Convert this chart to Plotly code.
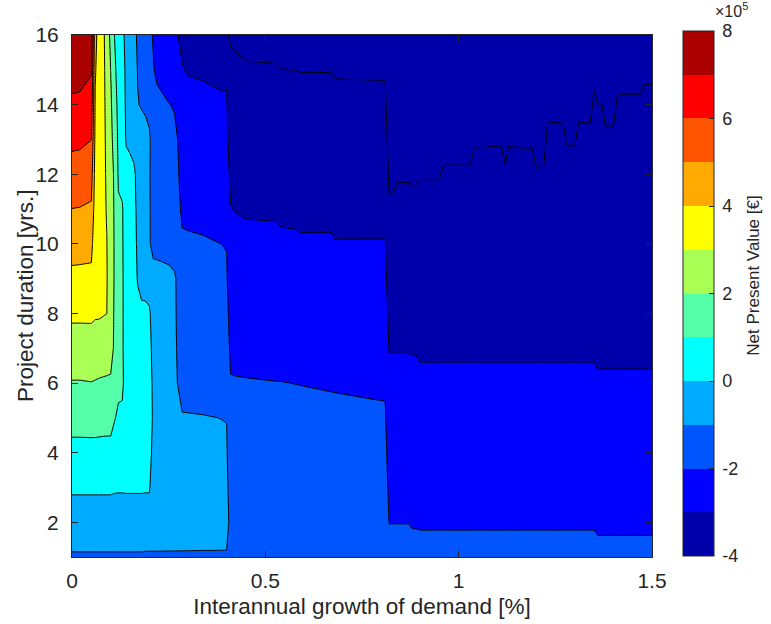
import numpy as np
import plotly.graph_objects as go

# Interannual growth of demand [%] (grid columns)
growth_pct = [0.00, 0.02, 0.05, 0.06, 0.07, 0.08, 0.09, 0.10, 0.11, 0.12, 0.13, 0.14,
              0.15, 0.16, 0.17, 0.18, 0.19, 0.20, 0.21, 0.22, 0.25, 0.265, 0.285, 0.30,
              0.34, 0.39, 0.40, 0.41, 0.42, 0.45, 0.53, 0.54, 0.58, 0.59, 0.67, 0.68,
              0.81, 0.82, 0.83, 0.84, 0.87, 0.88, 0.89, 0.90, 0.95, 0.96, 1.03, 1.04,
              1.11, 1.12, 1.13, 1.16, 1.19, 1.20, 1.22, 1.23, 1.27, 1.28, 1.30, 1.31,
              1.34, 1.35, 1.36, 1.37, 1.38, 1.40, 1.41, 1.42, 1.47, 1.48, 1.50]

# Project duration [yrs.] (grid rows)
duration_yrs = list(range(1, 17))

# Net present value [x 1e5 EUR]; one list per growth value, durations 1..16
npv_by_growth = [
    [-1.09, -0.48, 0.13, 0.73, 1.34, 1.95, 2.56, 3.17, 3.77, 4.38, 4.99, 5.60, 6.21, 6.81, 7.42, 7.99],
    [-1.09, -0.48, 0.13, 0.73, 1.34, 1.95, 2.56, 3.17, 3.76, 4.36, 4.97, 5.58, 6.18, 6.78, 7.38, 7.95],
    [-1.09, -0.48, 0.13, 0.73, 1.36, 1.98, 2.58, 3.17, 3.74, 4.31, 4.87, 5.44, 6.01, 6.56, 7.09, 7.65],
    [-1.09, -0.48, 0.13, 0.74, 1.34, 1.95, 2.54, 3.10, 3.18, 3.33, 3.48, 3.63, 3.78, 3.93, 4.07, 4.22],
    [-1.09, -0.48, 0.13, 0.73, 1.33, 1.92, 2.50, 3.10, 3.20, 3.30, 3.38, 3.45, 3.52, 3.58, 3.64, 3.68],
    [-1.09, -0.48, 0.13, 0.72, 1.32, 1.90, 2.47, 3.05, 3.12, 3.18, 3.20, 3.22, 3.23, 3.24, 3.24, 3.23],
    [-1.09, -0.48, 0.13, 0.72, 1.31, 1.88, 2.45, 3.005, 3.05, 3.02, 2.95, 2.90, 2.85, 2.78, 2.71, 2.58],
    [-1.09, -0.48, 0.13, 0.72, 1.31, 1.88, 2.35, 2.40, 2.50, 2.50, 2.45, 2.40, 2.30, 2.17, 1.99, 1.77],
    [-1.09, -0.48, 0.10, 0.58, 1.05, 1.50, 1.85, 1.90, 1.92, 1.92, 1.90, 1.85, 1.60, 1.40, 1.17, 0.99],
    [-1.09, -0.48, 0.09, 0.47, 0.85, 1.20, 1.35, 1.40, 1.40, 1.35, 1.10, 0.90, 0.83, 0.75, 0.67, 0.58],
    [-1.09, -0.48, 0.09, 0.45, 0.80, 1.20, 1.12, 1.12, 1.12, 1.10, 1.08, 0.70, 0.40, 0.33, 0.25, 0.17],
    [-1.09, -0.48, 0.10, 0.35, 0.45, 0.50, 0.55, 0.55, 0.55, 0.50, 0.45, 0.20, -0.05, -0.10, -0.12, -0.19],
    [-1.09, -0.48, 0.10, 0.33, 0.42, 0.45, 0.48, 0.48, 0.45, 0.40, 0.30, 0.25, -0.17, -0.35, -0.43, -0.50],
    [-1.09, -0.48, 0.10, 0.30, 0.38, 0.42, 0.44, 0.44, 0.30, 0.20, 0.15, 0.12, -0.25, -0.69, -0.74, -0.81],
    [-1.09, -0.48, 0.10, 0.28, 0.35, 0.38, 0.38, 0.20, -0.05, -0.10, -0.13, -0.20, -0.49, -0.97, -1.03, -1.10],
    [-1.09, -0.48, 0.10, 0.26, 0.32, 0.34, 0.30, 0.06, -0.10, -0.35, -0.39, -0.45, -0.66, -1.06, -1.26, -1.35],
    [-1.10, -0.49, 0.09, 0.25, 0.30, 0.30, 0.28, 0.11, -0.20, -0.61, -0.65, -0.70, -0.75, -1.12, -1.49, -1.60],
    [-1.10, -0.50, 0.09, 0.15, 0.20, 0.20, 0.15, 0.08, -0.30, -0.90, -0.92, -0.94, -0.90, -1.20, -1.72, -1.85],
    [-1.10, -0.50, -0.50, -0.12, -0.06, -0.09, -0.15, -0.25, -0.60, -1.30, -1.30, -1.30, -1.30, -1.48, -1.95, -2.05],
    [-1.10, -0.50, -0.50, -0.30, -0.25, -0.28, -0.35, -0.45, -0.65, -1.30, -1.32, -1.35, -1.40, -1.80, -2.15, -2.19],
    [-1.10, -0.52, -0.50, -0.45, -0.45, -0.50, -0.55, -0.65, -0.80, -1.30, -1.40, -1.50, -1.65, -1.97, -2.48, -2.60],
    [-1.10, -0.53, -0.55, -0.60, -0.75, -0.85, -0.87, -0.88, -0.88, -1.45, -1.60, -1.75, -1.82, -2.06, -2.66, -2.82],
    [-1.10, -0.54, -0.60, -0.75, -0.95, -1.25, -1.35, -1.45, -1.55, -1.90, -2.12, -2.20, -2.25, -2.35, -2.95, -3.20],
    [-1.10, -0.55, -0.65, -0.80, -0.95, -1.30, -1.42, -1.52, -1.62, -1.88, -2.20, -2.30, -2.40, -2.60, -3.08, -3.30],
    [-1.10, -0.57, -0.70, -0.85, -0.97, -1.32, -1.45, -1.55, -1.68, -1.92, -2.25, -2.40, -2.55, -2.75, -3.12, -3.45],
    [-1.10, -0.58, -0.72, -0.87, -1.01, -1.35, -1.50, -1.65, -1.80, -2.01, -2.30, -2.50, -2.70, -2.88, -3.20, -3.80],
    [-1.10, -0.60, -0.75, -0.90, -1.02, -1.40, -1.60, -1.75, -1.90, -2.03, -2.35, -2.60, -2.80, -2.93, -3.10, -3.93],
    [-1.20, -1.35, -1.50, -1.65, -1.80, -1.95, -2.145, -2.35, -2.56, -2.77, -2.97, -3.19, -3.41, -3.63, -3.85, -4.08],
    [-1.20, -1.35, -1.50, -1.65, -1.81, -1.96, -2.155, -2.37, -2.585, -2.80, -3.015, -3.23, -3.45, -3.67, -3.88, -4.10],
    [-1.20, -1.35, -1.51, -1.66, -1.81, -1.97, -2.17, -2.40, -2.62, -2.84, -3.064, -3.28, -3.50, -3.72, -3.945, -4.165],
    [-1.20, -1.36, -1.52, -1.67, -1.83, -1.99, -2.20, -2.42, -2.64, -2.86, -3.08, -3.30, -3.52, -3.74, -3.96, -4.18],
    [-1.20, -1.36, -1.52, -1.68, -1.83, -1.99, -2.21, -2.44, -2.67, -2.89, -3.116, -3.34, -3.56, -3.78, -3.993, -4.21],
    [-1.20, -1.36, -1.52, -1.68, -1.84, -2.007, -2.23, -2.46, -2.68, -2.91, -3.13, -3.35, -3.57, -3.79, -4.004, -4.22],
    [-1.20, -1.36, -1.52, -1.68, -1.85, -2.011, -2.24, -2.47, -2.70, -2.93, -3.15, -3.36, -3.58, -3.80, -4.015, -4.23],
    [-1.20, -1.37, -1.53, -1.70, -1.87, -2.044, -2.27, -2.49, -2.71, -2.93, -3.15, -3.36, -3.58, -3.80, -4.017, -4.23],
    [-1.20, -1.37, -1.53, -1.70, -1.87, -2.05, -2.28, -2.51, -2.74, -2.97, -3.185, -3.40, -3.62, -3.84, -4.057, -4.275],
    [-1.20, -1.38, -1.55, -1.73, -1.91, -2.10, -2.32, -2.54, -2.76, -2.97, -3.19, -3.41, -3.63, -3.85, -4.066, -4.285],
    [-1.80, -2.01, -2.22, -2.42, -2.63, -2.83, -3.03, -3.25, -3.46, -3.68, -3.90, -4.12, -4.33, -4.55, -4.77, -4.98],
    [-1.80, -2.01, -2.22, -2.42, -2.63, -2.83, -3.03, -3.25, -3.46, -3.68, -3.90, -4.12, -4.33, -4.55, -4.77, -4.98],
    [-1.80, -2.01, -2.22, -2.42, -2.63, -2.83, -3.03, -3.23, -3.44, -3.64, -3.84, -4.05, -4.25, -4.45, -4.65, -4.86],
    [-1.80, -2.01, -2.22, -2.42, -2.63, -2.83, -3.03, -3.23, -3.44, -3.64, -3.84, -4.05, -4.25, -4.45, -4.65, -4.86],
    [-1.83, -2.04, -2.24, -2.44, -2.64, -2.84, -3.04, -3.25, -3.45, -3.66, -3.86, -4.07, -4.27, -4.48, -4.68, -4.89],
    [-1.83, -2.04, -2.24, -2.44, -2.64, -2.84, -3.04, -3.25, -3.45, -3.66, -3.86, -4.07, -4.27, -4.48, -4.68, -4.89],
    [-1.83, -2.05, -2.25, -2.46, -2.67, -2.88, -3.08, -3.27, -3.46, -3.65, -3.84, -4.03, -4.22, -4.41, -4.60, -4.79],
    [-1.83, -2.05, -2.25, -2.46, -2.67, -2.88, -3.08, -3.27, -3.46, -3.65, -3.84, -4.03, -4.22, -4.41, -4.60, -4.79],
    [-1.83, -2.05, -2.25, -2.46, -2.67, -2.88, -3.08, -3.26, -3.43, -3.61, -3.78, -3.955, -4.13, -4.30, -4.48, -4.65],
    [-1.83, -2.05, -2.25, -2.46, -2.67, -2.88, -3.08, -3.26, -3.43, -3.61, -3.78, -3.955, -4.13, -4.30, -4.48, -4.65],
    [-1.83, -2.05, -2.25, -2.46, -2.67, -2.88, -3.08, -3.24, -3.40, -3.56, -3.72, -3.88, -4.04, -4.20, -4.36, -4.52],
    [-1.83, -2.05, -2.25, -2.46, -2.67, -2.88, -3.08, -3.24, -3.40, -3.55, -3.71, -3.87, -4.03, -4.19, -4.34, -4.50],
    [-1.83, -2.05, -2.25, -2.46, -2.67, -2.88, -3.08, -3.25, -3.43, -3.60, -3.77, -3.95, -4.12, -4.30, -4.47, -4.64],
    [-1.83, -2.05, -2.25, -2.46, -2.67, -2.88, -3.08, -3.24, -3.40, -3.56, -3.72, -3.87, -4.03, -4.19, -4.35, -4.51],
    [-1.83, -2.05, -2.25, -2.46, -2.67, -2.88, -3.08, -3.24, -3.40, -3.56, -3.72, -3.88, -4.04, -4.20, -4.36, -4.52],
    [-1.83, -2.05, -2.25, -2.46, -2.67, -2.88, -3.08, -3.24, -3.40, -3.56, -3.72, -3.88, -4.04, -4.20, -4.36, -4.52],
    [-1.83, -2.05, -2.25, -2.46, -2.67, -2.88, -3.08, -3.26, -3.43, -3.61, -3.78, -3.96, -4.14, -4.31, -4.49, -4.66],
    [-1.83, -2.05, -2.25, -2.46, -2.67, -2.88, -3.08, -3.26, -3.43, -3.61, -3.78, -3.955, -4.13, -4.30, -4.48, -4.65],
    [-1.83, -2.05, -2.25, -2.46, -2.67, -2.88, -3.08, -3.22, -3.36, -3.50, -3.65, -3.79, -3.93, -4.07, -4.21, -4.35],
    [-1.83, -2.05, -2.25, -2.46, -2.67, -2.88, -3.08, -3.22, -3.36, -3.51, -3.65, -3.79, -3.93, -4.08, -4.22, -4.36],
    [-1.83, -2.05, -2.25, -2.46, -2.67, -2.88, -3.08, -3.24, -3.40, -3.555, -3.71, -3.87, -4.03, -4.19, -4.35, -4.50],
    [-1.83, -2.05, -2.25, -2.46, -2.67, -2.88, -3.08, -3.24, -3.40, -3.555, -3.71, -3.87, -4.03, -4.19, -4.35, -4.50],
    [-1.83, -2.05, -2.25, -2.46, -2.67, -2.88, -3.08, -3.22, -3.36, -3.51, -3.65, -3.79, -3.93, -4.07, -4.22, -4.36],
    [-1.83, -2.05, -2.25, -2.46, -2.67, -2.88, -3.08, -3.22, -3.36, -3.51, -3.65, -3.79, -3.93, -4.08, -4.22, -4.36],
    [-1.83, -2.05, -2.25, -2.46, -2.67, -2.88, -3.08, -3.205, -3.33, -3.45, -3.58, -3.70, -3.83, -3.95, -4.08, -4.20],
    [-1.87, -2.08, -2.29, -2.50, -2.71, -2.92, -3.12, -3.25, -3.37, -3.50, -3.62, -3.75, -3.87, -3.998, -4.125, -4.25],
    [-1.87, -2.08, -2.29, -2.50, -2.71, -2.92, -3.12, -3.25, -3.37, -3.50, -3.62, -3.75, -3.87, -3.998, -4.125, -4.25],
    [-1.87, -2.08, -2.29, -2.50, -2.71, -2.92, -3.12, -3.26, -3.40, -3.535, -3.67, -3.81, -3.95, -4.09, -4.23, -4.365],
    [-1.87, -2.08, -2.29, -2.50, -2.71, -2.92, -3.12, -3.26, -3.40, -3.535, -3.67, -3.81, -3.95, -4.09, -4.23, -4.365],
    [-1.87, -2.08, -2.29, -2.50, -2.71, -2.92, -3.12, -3.24, -3.36, -3.48, -3.61, -3.73, -3.85, -3.97, -4.09, -4.21],
    [-1.87, -2.08, -2.29, -2.50, -2.71, -2.92, -3.12, -3.24, -3.36, -3.48, -3.60, -3.72, -3.84, -3.964, -4.084, -4.205],
    [-1.87, -2.08, -2.29, -2.50, -2.71, -2.92, -3.12, -3.24, -3.36, -3.48, -3.60, -3.72, -3.84, -3.964, -4.084, -4.205],
    [-1.87, -2.08, -2.29, -2.50, -2.71, -2.92, -3.12, -3.24, -3.35, -3.47, -3.58, -3.70, -3.82, -3.93, -4.05, -4.165],
    [-1.87, -2.08, -2.29, -2.50, -2.71, -2.92, -3.12, -3.24, -3.35, -3.47, -3.58, -3.70, -3.82, -3.93, -4.05, -4.165],
]

npv_unit = 1e5
level_min, level_max, level_step = -4e5, 8e5, 1e5
colorbar_ticks = [-4e5, -2e5, 0, 2e5, 4e5, 6e5, 8e5]
colorbar_ticktext = ["-4", "-2", "0", "2", "4", "6", "8"]
x_ticks = [0, 0.5, 1, 1.5]
x_ticktext = ["0", "0.5", "1", "1.5"]
y_ticks = [2, 4, 6, 8, 10, 12, 14, 16]

# MATLAB jet(12)
jet12 = ["rgb(0,0,170)", "rgb(0,0,255)", "rgb(0,85,255)", "rgb(0,170,255)",
         "rgb(0,255,255)", "rgb(85,255,170)", "rgb(170,255,85)", "rgb(255,255,0)",
         "rgb(255,170,0)", "rgb(255,85,0)", "rgb(255,0,0)", "rgb(170,0,0)"]

z = np.array(npv_by_growth, dtype=float).T * npv_unit

colorscale = []
for k, c in enumerate(jet12):
    colorscale.append([k / 12, c])
    colorscale.append([(k + 1) / 12, c])

axis_color = "#262626"
font_family = "Liberation Sans, Arial, sans-serif"
thin = "\u2009"

fig = go.Figure()
# filled bands (values below -3e5 take the lowest colour, as in MATLAB)
fig.add_trace(go.Contour(
    x=growth_pct, y=duration_yrs, z=z,
    autocontour=False,
    contours=dict(start=level_min + level_step, end=level_max, size=level_step,
                  coloring="fill", showlines=False),
    line=dict(width=0, smoothing=0),
    colorscale=colorscale,
    showscale=False,
    hoverinfo="skip",
))
# black contour lines at every level
fig.add_trace(go.Contour(
    x=growth_pct, y=duration_yrs, z=z,
    autocontour=False,
    contours=dict(start=level_min, end=level_max, size=level_step, coloring="none"),
    line=dict(color="black", width=1.0, smoothing=0),
    showscale=False,
    hoverinfo="skip",
))
# colour bar with the 12 discrete jet bands from -4e5 to 8e5
fig.add_trace(go.Scatter(
    x=[None], y=[None], mode="markers", hoverinfo="skip", showlegend=False,
    marker=dict(
        color=[0], cmin=level_min, cmax=level_max, colorscale=colorscale, showscale=True,
        colorbar=dict(
            x=1.053, xanchor="left", xpad=0, ypad=0,
            y=0.5045, yanchor="middle", len=1.005, lenmode="fraction",
            thickness=31, thicknessmode="pixels",
            outlinewidth=1, outlinecolor=axis_color,
            tickmode="array", tickvals=colorbar_ticks,
            ticktext=[thin + t for t in colorbar_ticktext],
            ticks="inside", ticklen=5, tickwidth=1, tickcolor=axis_color,
            tickfont=dict(family=font_family, size=18, color=axis_color),
        ),
    ),
))

fig.add_annotation(
    x=1.106, y=1.047, xref="paper", yref="paper", xanchor="left", yanchor="middle",
    text="×10<sup>5</sup>", showarrow=False,
    font=dict(family=font_family, size=16, color=axis_color),
)
fig.add_annotation(
    x=1.175, y=0.538, xref="paper", yref="paper", xanchor="center", yanchor="middle",
    text="Net Present Value [€]", showarrow=False, textangle=-90,
    font=dict(family=font_family, size=17, color=axis_color),
)
fig.add_annotation(
    x=-0.081, y=0.5, xref="paper", yref="paper", xanchor="center", yanchor="middle",
    text="Project duration [yrs.]", showarrow=False, textangle=-90,
    font=dict(family=font_family, size=22.5, color=axis_color),
)

fig.update_layout(
    width=771, height=624,
    margin=dict(l=72, r=119, t=35, b=67, autoexpand=False),
    paper_bgcolor="white", plot_bgcolor="white",
    font=dict(family=font_family, color=axis_color),
    showlegend=False,
    xaxis=dict(
        range=[0, 1.5], tickmode="array", tickvals=x_ticks, ticktext=x_ticktext,
        ticks="inside", ticklen=6, tickwidth=1, tickcolor=axis_color,
        showline=True, linecolor=axis_color, linewidth=1, mirror="ticks",
        showgrid=False, zeroline=False, ticklabelstandoff=5,
        tickfont=dict(family=font_family, size=21, color=axis_color),
        title=dict(text="Interannual growth of demand [%]", standoff=7,
                   font=dict(family=font_family, size=22.5, color=axis_color)),
    ),
    yaxis=dict(
        range=[1, 16], tickmode="array", tickvals=y_ticks,
        ticks="inside", ticklen=6, tickwidth=1, tickcolor=axis_color,
        showline=True, linecolor=axis_color, linewidth=1, mirror="ticks",
        showgrid=False, zeroline=False, ticklabelstandoff=8,
        tickfont=dict(family=font_family, size=21, color=axis_color),
    ),
)

fig.write_html("out.html", config={"displayModeBar": False},
               post_script="document.body.style.margin='0px';")
